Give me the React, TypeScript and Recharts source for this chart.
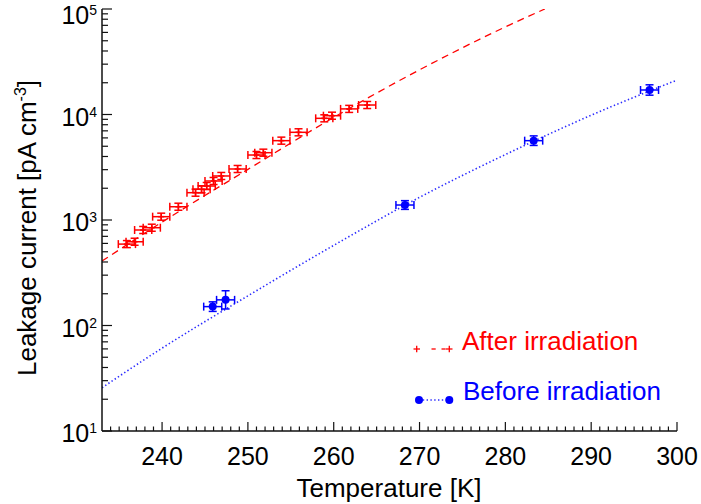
import React from "react";
import { ComposedChart, XAxis, YAxis, Line, Scatter, ErrorBar } from "recharts";

// measured points, after irradiation
const redT = [235.9, 236.8, 237.8, 238.8, 239.9, 241.9, 243.9, 244.6, 245.2, 246.0, 246.9, 248.8, 251.0, 251.8, 253.9, 255.9, 258.9, 259.8, 261.8, 263.9];
const redI = [591, 622, 804, 845, 1075, 1336, 1815, 1955, 2100, 2343, 2614, 3044, 4130, 4345, 5650, 6780, 9200, 9740, 11300, 12300];
const redTErr = 1.0;
const redRelErr = 0.08;

// measured points, before irradiation
const blueT = [245.9, 247.4, 268.3, 283.3, 296.8];
const blueI = [151, 175, 1387, 5650, 17070];
const blueTErr = 1.05;
const blueRelErr = [0.11, 0.22, 0.1, 0.11, 0.12];

// fit curves
const redFitT = [233, 240, 250, 260, 270, 280, 284.6];
const redFitI = [408, 955, 3020, 9380, 26500, 67600, 100000];
const blueFitT = [233, 240, 250, 260, 270, 280, 290, 300];
const blueFitI = [25.7, 61, 191, 575, 1640, 4170, 9840, 21200];

const xTicks = Array.from({ length: 67 }, (_, i) => 234 + i);
const yTicks = [1, 2, 3, 4].flatMap((e) => [1, 2, 3, 4, 5, 6, 7, 8, 9].map((m) => m * Math.pow(10, e))).concat([100000]);

const FONT = "'Liberation Sans', Arial, Helvetica, sans-serif";
const AXIS = "#111";
const RED = "#ff0000";
const BLUE = "#0000ff";

const redData = redT.map((T, i) => ({
  T,
  I: redI[i],
  xe: redTErr,
  ye: [redI[i] - redI[i] / (1 + redRelErr), redI[i] * redRelErr],
}));
const blueData = blueT.map((T, i) => ({
  T,
  I: blueI[i],
  xe: blueTErr,
  ye: [blueI[i] - blueI[i] / (1 + blueRelErr[i]), blueI[i] * blueRelErr[i]],
}));
const redFit = redFitT.map((T, i) => ({ T, I: redFitI[i] }));
const blueFit = blueFitT.map((T, i) => ({ T, I: blueFitI[i] }));

const isDecade = (v: number) => Math.abs(Math.log10(v) - Math.round(Math.log10(v))) < 1e-6;

const XTickBottom = ({ x, y, payload }: any) => {
  const major = payload.value % 10 === 0;
  return (
    <g>
      <line x1={x} y1={y} x2={x} y2={y - (major ? 9 : 4.5)} stroke={AXIS} strokeWidth={1.2} />
      {major && (
        <text x={x} y={y + 34} textAnchor="middle" fontSize={25} fill="#000" fontFamily={FONT}>
          {payload.value}
        </text>
      )}
    </g>
  );
};

const XTickTop = ({ x, y, payload }: any) => {
  const major = payload.value % 10 === 0;
  return <line x1={x} y1={y} x2={x} y2={y + (major ? 9 : 4.5)} stroke={AXIS} strokeWidth={1.2} />;
};

const YTickLeft = ({ x, y, payload }: any) => {
  const major = isDecade(payload.value);
  // keep the top label inside the page
  const base = Math.max(y + 11, 24);
  return (
    <g>
      <line x1={x} y1={y} x2={x + (major ? 10 : 6)} y2={y} stroke={AXIS} strokeWidth={1.2} />
      {major && (
        <text x={x - 5} y={base} textAnchor="end" fontSize={25} fill="#000" fontFamily={FONT}>
          10
          <tspan dy={-9} fontSize={14}>
            {Math.round(Math.log10(payload.value))}
          </tspan>
        </text>
      )}
    </g>
  );
};

const YTickRight = ({ x, y, payload }: any) => {
  const major = isDecade(payload.value);
  return <line x1={x} y1={y} x2={x - (major ? 10 : 6)} y2={y} stroke={AXIS} strokeWidth={1.2} />;
};

const PlusMark = ({ cx, cy }: any) => (
  <g stroke={RED} strokeWidth={1.5}>
    <line x1={cx - 3} y1={cy} x2={cx + 3} y2={cy} />
    <line x1={cx} y1={cy - 3} x2={cx} y2={cy + 3} />
  </g>
);

const DotMark = ({ cx, cy }: any) => <circle cx={cx} cy={cy} r={4} fill={BLUE} />;

export default function App() {
  const axisLine = { stroke: AXIS, strokeWidth: 1.5 };
  return (
    <div style={{ position: "absolute", left: 0, top: 0, width: 701, height: 504, background: "#fff" }}>
      <ComposedChart width={701} height={504} margin={{ top: 9, right: 24, bottom: 0, left: 0 }}>
        <XAxis
          xAxisId="b"
          dataKey="T"
          type="number"
          domain={[233, 300]}
          allowDataOverflow
          ticks={xTicks}
          interval={0}
          tickSize={0}
          tickMargin={0}
          tickLine={false}
          tick={<XTickBottom />}
          axisLine={axisLine}
          height={73}
        />
        <XAxis
          xAxisId="t"
          orientation="top"
          type="number"
          domain={[233, 300]}
          allowDataOverflow
          ticks={xTicks}
          interval={0}
          tickSize={0}
          tickMargin={0}
          tickLine={false}
          tick={<XTickTop />}
          axisLine={axisLine}
          height={0}
        />
        <YAxis
          yAxisId="l"
          dataKey="I"
          scale="log"
          type="number"
          domain={[10, 100000]}
          allowDataOverflow
          ticks={yTicks}
          interval={0}
          tickSize={0}
          tickMargin={0}
          tickLine={false}
          tick={<YTickLeft />}
          axisLine={axisLine}
          width={102}
        />
        <YAxis
          yAxisId="r"
          orientation="right"
          scale="log"
          type="number"
          domain={[10, 100000]}
          allowDataOverflow
          ticks={yTicks}
          interval={0}
          tickSize={0}
          tickMargin={0}
          tickLine={false}
          tick={<YTickRight />}
          axisLine={axisLine}
          width={0}
        />
        <Line
          xAxisId="b"
          yAxisId="l"
          data={blueFit}
          dataKey="I"
          type="monotone"
          stroke="#2a2aff"
          strokeWidth={1.6}
          strokeDasharray="1.4 2.4"
          dot={false}
          activeDot={false}
          isAnimationActive={false}
        />
        <Line
          xAxisId="b"
          yAxisId="l"
          data={redFit}
          dataKey="I"
          type="monotone"
          stroke={RED}
          strokeWidth={1.3}
          strokeDasharray="7 5"
          dot={false}
          activeDot={false}
          isAnimationActive={false}
        />
        <Scatter xAxisId="b" yAxisId="l" data={redData} shape={<PlusMark />} isAnimationActive={false}>
          <ErrorBar dataKey="xe" direction="x" width={4} stroke={RED} strokeWidth={1.5} isAnimationActive={false} />
          <ErrorBar dataKey="ye" direction="y" width={4} stroke={RED} strokeWidth={1.5} isAnimationActive={false} />
        </Scatter>
        <Scatter xAxisId="b" yAxisId="l" data={blueData} shape={<DotMark />} isAnimationActive={false}>
          <ErrorBar dataKey="xe" direction="x" width={4} stroke={BLUE} strokeWidth={1.5} isAnimationActive={false} />
          <ErrorBar dataKey="ye" direction="y" width={4} stroke={BLUE} strokeWidth={1.5} isAnimationActive={false} />
        </Scatter>
      </ComposedChart>
      <svg width={701} height={504} style={{ position: "absolute", left: 0, top: 0, pointerEvents: "none" }} fontFamily={FONT}>
        <text transform="translate(36,228) rotate(-90)" textAnchor="middle" fontSize={26} fill="#000">
          Leakage current [pA cm
          <tspan dy={-10} fontSize={16}>-3</tspan>
          <tspan dy={10}>]</tspan>
        </text>
        <text x={389} y={497} textAnchor="middle" fontSize={26} fill="#000">
          Temperature [K]
        </text>
        <g stroke={RED} strokeWidth={1.3}>
          <line x1={413.5} y1={349} x2={420} y2={349} />
          <line x1={416.7} y1={345.7} x2={416.7} y2={352.3} />
          <line x1={431.5} y1={349} x2={435.7} y2={349} />
          <line x1={441.5} y1={349} x2={445.7} y2={349} />
          <line x1={446} y1={349} x2={452.5} y2={349} />
          <line x1={449.3} y1={345.7} x2={449.3} y2={352.3} />
        </g>
        <text x={462} y={350} fontSize={26} fill={RED}>
          After irradiation
        </text>
        <line x1={419} y1={400} x2={449.3} y2={400} stroke="#2a2aff" strokeWidth={1.5} strokeDasharray="1.4 2.4" />
        <circle cx={419} cy={400} r={4} fill={BLUE} />
        <circle cx={449.3} cy={400} r={4} fill={BLUE} />
        <text x={463} y={400} fontSize={26} fill={BLUE}>
          Before irradiation
        </text>
      </svg>
    </div>
  );
}
